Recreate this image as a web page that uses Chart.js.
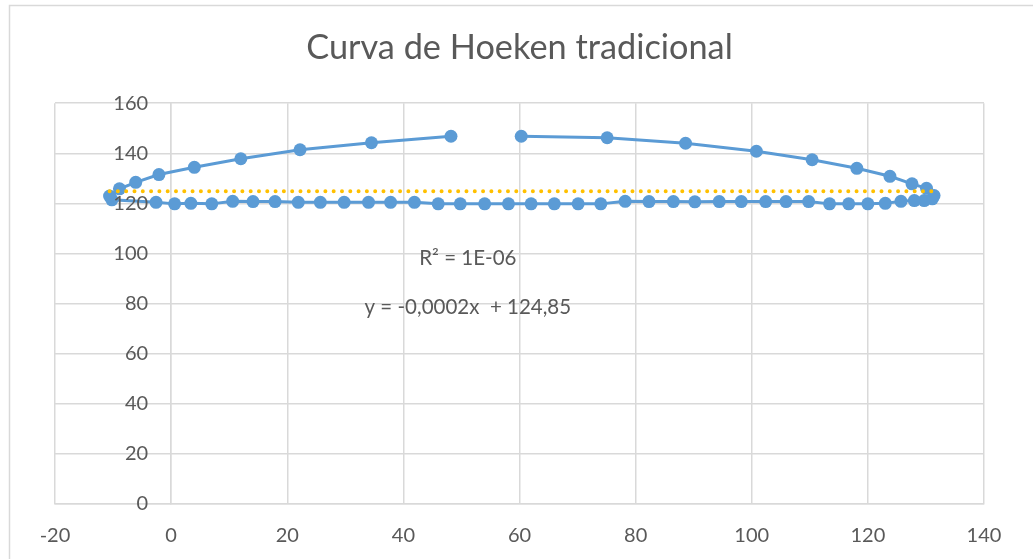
<!DOCTYPE html>
<html>
<head>
<meta charset="utf-8">
<title>Curva de Hoeken tradicional</title>
<script src="https://cdn.jsdelivr.net/npm/chart.js@4.4.1/dist/chart.umd.min.js"></script>
<style>
    html, body { margin: 0; padding: 0; background: #fff; overflow: hidden; }
    #wrap { width: 1033px; height: 559px; }
</style>
</head>
<body>
<div id="wrap"><canvas id="hoekenChart" width="1033" height="559"></canvas></div>
<script>
// coupler point path, walked from the top of the arc round the straight stretch
const curveX = [
    60.3, 75.1, 88.6, 100.8, 110.4, 118.1, 123.8, 127.6, 130.1, 131.4,
    131.1, 129.7, 128.0, 125.7, 123.0, 120.0, 116.7, 113.4, 109.8, 105.9,
    102.4, 98.2, 94.4, 90.2, 86.5, 82.3, 78.2, 74.0, 70.1, 66.0,
    62.0, 58.1, 54.0, 49.8, 46.0, 41.9, 37.8, 34.0, 29.8, 25.7,
    21.9, 17.9, 14.1, 10.6, 7.0, 3.4, 0.6, -2.6, -10.2, -10.6,
    -8.9, -6.1, -2.1, 4.0, 12.0, 22.2, 34.5, 48.2,
];
const curveY = [
    146.8, 146.2, 144.0, 140.8, 137.4, 134.0, 130.8, 127.8, 126.0, 123.1,
    121.8, 121.1, 121.1, 120.8, 120.0, 119.8, 119.8, 119.8, 120.7, 120.7,
    120.7, 120.7, 120.7, 120.6, 120.7, 120.7, 120.8, 119.8, 119.8, 119.8,
    119.8, 119.8, 119.8, 119.8, 119.8, 120.4, 120.4, 120.4, 120.4, 120.4,
    120.4, 120.7, 120.7, 120.8, 119.8, 120.0, 119.8, 120.4, 121.4, 122.9,
    125.8, 128.4, 131.5, 134.4, 137.8, 141.4, 144.2, 146.8,
];

// linear trend as reported on the chart
const trendSlope = -0.0002;
const trendIntercept = 124.85;
const trendR2 = '1E-06';

const xTicks = [-20, 0, 20, 40, 60, 80, 100, 120, 140];
const yTicks = [0, 20, 40, 60, 80, 100, 120, 140, 160];

// where the trend labels sit, in data units
const labelAnchorX = 51.1;
const r2AnchorY = 97.9;
const eqAnchorY = 78.4;

const colors = {
    series: '#5B9BD5',
    trend: '#FFC000',
    text: '#595959',
    grid: '#D9D9D9',
};

const fontFamily = 'Lato, "Open Sans", sans-serif';
const tickFont = `20px ${fontFamily}`;

const curvePoints = curveX.map((x, i) => ({ x, y: curveY[i] }));
const xMin = Math.min(...curveX);
const xMax = Math.max(...curveX);
const trendPoints = [xMin, xMax].map((x) => ({ x, y: trendSlope * x + trendIntercept }));

function fmt(n) {
    return String(n).replace('.', ',');
}

const frame = {
    id: 'frame',
    beforeDraw(chart) {
        const { ctx, width, height } = chart;
        ctx.save();
        ctx.fillStyle = '#fff';
        ctx.fillRect(0, 0, width, height);
        ctx.strokeStyle = colors.grid;
        ctx.lineWidth = 1.5;
        ctx.strokeRect(9.5, 5.5, width + 20, height + 20);
        ctx.restore();
    },
};

// the value axis crosses at x = 0, so its labels are set just left of that line
const crossingAxisLabels = {
    id: 'crossingAxisLabels',
    afterDatasetsDraw(chart) {
        const { ctx, scales } = chart;
        const axisX = scales.x.getPixelForValue(0);
        ctx.save();
        ctx.fillStyle = colors.text;
        ctx.font = tickFont;
        ctx.textAlign = 'right';
        ctx.textBaseline = 'middle';
        scales.y.ticks.forEach((tick) => {
            ctx.fillText(String(tick.value), axisX - 23, scales.y.getPixelForValue(tick.value));
        });
        ctx.restore();
    },
};

const trendLabels = {
    id: 'trendLabels',
    afterDatasetsDraw(chart) {
        const { ctx, scales } = chart;
        const cx = scales.x.getPixelForValue(labelAnchorX);
        ctx.save();
        ctx.fillStyle = colors.text;
        ctx.font = `20.5px ${fontFamily}`;
        ctx.textAlign = 'center';
        ctx.textBaseline = 'middle';
        ctx.fillText(`R² = ${trendR2}`, cx, scales.y.getPixelForValue(r2AnchorY));
        const sign = trendSlope < 0 ? '-' : '';
        const eq = `y = ${sign}${fmt(Math.abs(trendSlope).toFixed(4))}x  + ${fmt(trendIntercept)}`;
        ctx.fillText(eq, cx, scales.y.getPixelForValue(eqAnchorY));
        ctx.restore();
    },
};

new Chart(document.getElementById('hoekenChart'), {
    type: 'scatter',
    data: {
        datasets: [
            {
                label: 'Lineal',
                data: trendPoints,
                showLine: true,
                borderColor: colors.trend,
                borderWidth: 4,
                borderDash: [0, 8.3],
                borderCapStyle: 'round',
                pointRadius: 0,
                order: 0,
            },
            {
                label: 'Curva',
                data: curvePoints,
                showLine: true,
                borderColor: colors.series,
                backgroundColor: colors.series,
                borderWidth: 3,
                pointRadius: 6.5,
                pointBorderWidth: 0,
                pointBackgroundColor: colors.series,
                order: 1,
            },
        ],
    },
    options: {
        responsive: false,
        animation: false,
        layout: {
            padding: { left: 55, right: 49, top: 0, bottom: -9 },
        },
        plugins: {
            legend: { display: false },
            tooltip: { enabled: false },
            title: {
                display: true,
                text: 'Curva de Hoeken tradicional',
                color: colors.text,
                font: { family: fontFamily, size: 34.3, weight: 'normal' },
                padding: { top: 27, bottom: 35 },
            },
        },
        scales: {
            x: {
                type: 'linear',
                position: 'bottom',
                min: xTicks[0],
                max: xTicks[xTicks.length - 1],
                afterBuildTicks(axis) {
                    axis.ticks = xTicks.map((value) => ({ value }));
                },
                ticks: {
                    color: colors.text,
                    font: { family: fontFamily, size: 20 },
                    padding: 20,
                    maxRotation: 0,
                },
                grid: { color: colors.grid, lineWidth: 1.5, drawTicks: false },
                border: { color: colors.grid, width: 1.5 },
            },
            y: {
                type: 'linear',
                position: { x: 0 },
                min: yTicks[0],
                max: yTicks[yTicks.length - 1],
                afterBuildTicks(axis) {
                    axis.ticks = yTicks.map((value) => ({ value }));
                },
                ticks: { display: false },
                grid: { color: colors.grid, lineWidth: 1.5, drawTicks: false },
                border: { color: colors.grid, width: 1.5 },
            },
        },
    },
    plugins: [frame, crossingAxisLabels, trendLabels],
});
</script>
</body>
</html>
